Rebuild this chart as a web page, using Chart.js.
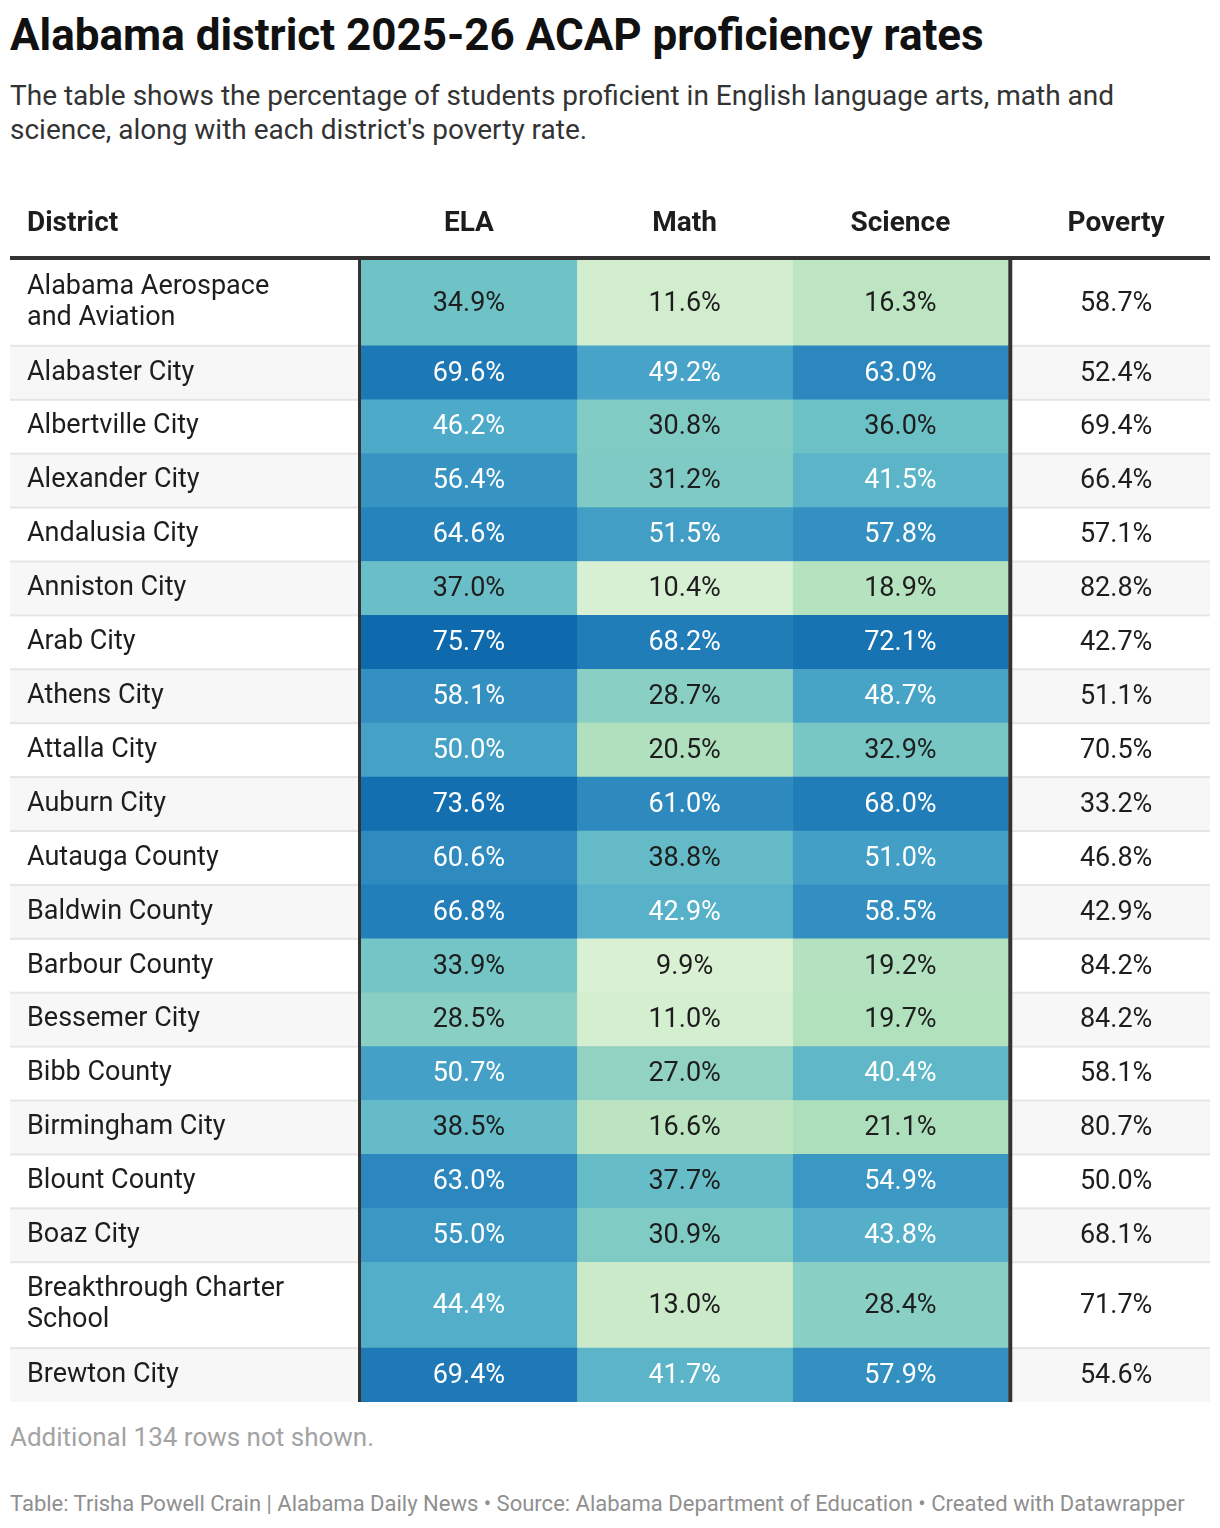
<!DOCTYPE html>
<html>
<head>
<meta charset="utf-8">
<script src="https://cdn.jsdelivr.net/npm/chart.js@4.4.1/dist/chart.umd.min.js"></script>
<style>
  html, body { margin: 0; padding: 0; background: #fff; overflow: hidden; }
  body { width: 1220px; height: 1528px; position: relative; font-family: Roboto, sans-serif; }
  .title { position: absolute; left: 10px; top: 10px; font-size: 44px; line-height: 50px; font-weight: 700; color: #111; white-space: nowrap; }
  .subtitle { position: absolute; left: 10px; top: 79px; width: 1150px; font-size: 28px; line-height: 34px; color: #333; }
  .note { position: absolute; left: 10px; top: 1422px; font-size: 26px; line-height: 30px; color: #a3a3a3; }
  .source { position: absolute; left: 10px; top: 1491px; font-size: 22px; line-height: 26px; color: #8f8f8f; white-space: nowrap; }
  .wrap { position: absolute; left: 0; top: 180px; width: 1220px; height: 1222px; }
</style>
</head>
<body>
<div class="title">Alabama district 2025-26 ACAP proficiency rates</div>
<div class="subtitle">The table shows the percentage of students proficient in English language arts, math and science, along with each district's poverty rate.</div>
<div class="wrap"><canvas id="table"></canvas></div>
<div class="note">Additional 134 rows not shown.</div>
<div class="source">Table: Trisha Powell Crain | Alabama Daily News • Source: Alabama Department of Education • Created with Datawrapper</div>
<script>
const columns = ['ELA', 'Math', 'Science', 'Poverty'];
const districts = [
  ['Alabama Aerospace', 'and Aviation'], 'Alabaster City', 'Albertville City', 'Alexander City',
  'Andalusia City', 'Anniston City', 'Arab City', 'Athens City', 'Attalla City', 'Auburn City',
  'Autauga County', 'Baldwin County', 'Barbour County', 'Bessemer City', 'Bibb County',
  'Birmingham City', 'Blount County', 'Boaz City', ['Breakthrough Charter', 'School'], 'Brewton City'
];
const ela = [34.9, 69.6, 46.2, 56.4, 64.6, 37.0, 75.7, 58.1, 50.0, 73.6, 60.6, 66.8, 33.9, 28.5, 50.7, 38.5, 63.0, 55.0, 44.4, 69.4];
const math = [11.6, 49.2, 30.8, 31.2, 51.5, 10.4, 68.2, 28.7, 20.5, 61.0, 38.8, 42.9, 9.9, 11.0, 27.0, 16.6, 37.7, 30.9, 13.0, 41.7];
const science = [16.3, 63.0, 36.0, 41.5, 57.8, 18.9, 72.1, 48.7, 32.9, 68.0, 51.0, 58.5, 19.2, 19.7, 40.4, 21.1, 54.9, 43.8, 28.4, 57.9];
const poverty = [58.7, 52.4, 69.4, 66.4, 57.1, 82.8, 42.7, 51.1, 70.5, 33.2, 46.8, 42.9, 84.2, 84.2, 58.1, 80.7, 50.0, 68.1, 71.7, 54.6];

const series = [ela, math, science, poverty];

// colour ramp (green -> blue)
const stops = [
  [9.9, '#d9f0d3'], [16, '#bee5c2'], [21, '#aedfbd'], [28.5, '#8acfc3'], [35, '#6fc3c6'],
  [46, '#4eaac9'], [58, '#3490c1'], [68, '#217db8'], [76, '#0e69ad']
];
function hexRgb(h) { return [1, 3, 5].map(i => parseInt(h.slice(i, i + 2), 16)); }
function colorFor(v) {
  if (v <= stops[0][0]) return stops[0][1];
  for (let i = 1; i < stops.length; i++) {
    if (v <= stops[i][0]) {
      const t = (v - stops[i - 1][0]) / (stops[i][0] - stops[i - 1][0]);
      const a = hexRgb(stops[i - 1][1]), b = hexRgb(stops[i][1]);
      return 'rgb(' + a.map((c, k) => Math.round(c + (b[k] - c) * t)).join(',') + ')';
    }
  }
  return stops[stops.length - 1][1];
}

// row extents: one-line rows are 1 unit, every extra line adds 32/54
const rowTop = [], rowBottom = [], rowMid = [];
let acc = 0;
districts.forEach(d => {
  const lines = Array.isArray(d) ? d.length : 1;
  rowTop.push(acc);
  acc += 1 + (lines - 1) * 32 / 54;
  rowBottom.push(acc);
  rowMid.push((rowTop[rowTop.length - 1] + acc) / 2);
});
const totalRows = acc;

const TEXT = '#1d1d1d';
const HEAD_FONT = { family: 'Roboto', size: 28, weight: 'bold', lineHeight: 1.2 };
const HEAD_PAD = 19;

const tableDecor = {
  id: 'tableDecor',
  beforeDraw(chart) {
    const { ctx, scales: { y } } = chart;
    ctx.save();
    districts.forEach((d, i) => {
      const t = y.getPixelForValue(rowTop[i]), b = y.getPixelForValue(rowBottom[i]);
      if (i % 2 === 1) {
        ctx.fillStyle = '#f7f7f7';
        ctx.fillRect(10, t, 1200, b - t);
      }
      if (i > 0) {
        ctx.fillStyle = '#e5e5e5';
        ctx.fillRect(10, t - 1, 1200, 2);
      }
    });
    ctx.restore();
  },
  afterDatasetsDraw(chart) {
    const { ctx, chartArea: area, scales: { x } } = chart;
    ctx.save();
    // cell labels
    ctx.textAlign = 'center';
    ctx.textBaseline = 'middle';
    ctx.font = '27px Roboto';
    chart.data.datasets.forEach((ds, di) => {
      chart.getDatasetMeta(di).data.forEach((el, i) => {
        const v = series[di][i];
        ctx.fillStyle = (di < 3 && v >= 40) ? '#ffffff' : TEXT;
        ctx.fillText(v.toFixed(1) + '%', el.x, (el.y + el.base) / 2 + 1);
      });
    });
    // header rule and column dividers
    ctx.fillStyle = '#333333';
    ctx.fillRect(10, area.top - 4, 1200, 4);
    const xl = x.getPixelForValue(-0.5), xr = x.getPixelForValue(2.5);
    ctx.fillRect(xl - 3, area.top, 3, area.bottom - area.top);
    ctx.fillRect(xr, area.top, 4, area.bottom - area.top);
    // first column header
    ctx.font = 'bold 28px Roboto';
    ctx.textAlign = 'left';
    ctx.fillStyle = TEXT;
    ctx.fillText('District', 27, area.top - HEAD_PAD - HEAD_FONT.size * HEAD_FONT.lineHeight / 2);
    ctx.restore();
  }
};

const datasets = series.map((vals, c) => ({
  label: columns[c],
  data: vals.map((v, i) => ({ x: c, y: [rowTop[i], rowBottom[i]] })),
  backgroundColor: c < 3 ? vals.map(colorFor) : 'rgba(0,0,0,0)',
  borderWidth: 0,
  grouped: false,
  categoryPercentage: 1,
  barPercentage: 1
}));

new Chart(document.getElementById('table'), {
  type: 'bar',
  data: { datasets },
  options: {
    responsive: true,
    maintainAspectRatio: false,
    animation: false,
    layout: { padding: { left: 27, right: 10, top: 0, bottom: 0 } },
    plugins: { legend: { display: false }, tooltip: { enabled: false } },
    scales: {
      x: {
        type: 'linear',
        position: 'top',
        offset: false,
        min: -0.5,
        max: 3.435,
        afterBuildTicks: s => { s.ticks = columns.map((c, i) => ({ value: i })); },
        afterFit: s => { s.height = 80; s.paddingLeft = 0; s.paddingRight = 0; },
        grid: { display: false, drawTicks: false },
        border: { display: false },
        ticks: {
          autoSkip: false,
          maxRotation: 0,
          padding: HEAD_PAD,
          color: TEXT,
          font: HEAD_FONT,
          callback: (v, i) => columns[i]
        }
      },
      y: {
        type: 'linear',
        reverse: true,
        min: 0,
        max: totalRows,
        afterBuildTicks: s => { s.ticks = rowMid.map(v => ({ value: v })); },
        afterFit: s => { s.width = 334; s.paddingTop = 0; s.paddingBottom = 0; },
        grid: { display: false, drawTicks: false },
        border: { display: false },
        ticks: {
          autoSkip: false,
          crossAlign: 'far',
          padding: 0,
          color: TEXT,
          font: { family: 'Roboto', size: 27, lineHeight: 1.15 },
          callback: (v, i) => districts[i]
        }
      }
    }
  },
  plugins: [tableDecor]
});
</script>
</body>
</html>
